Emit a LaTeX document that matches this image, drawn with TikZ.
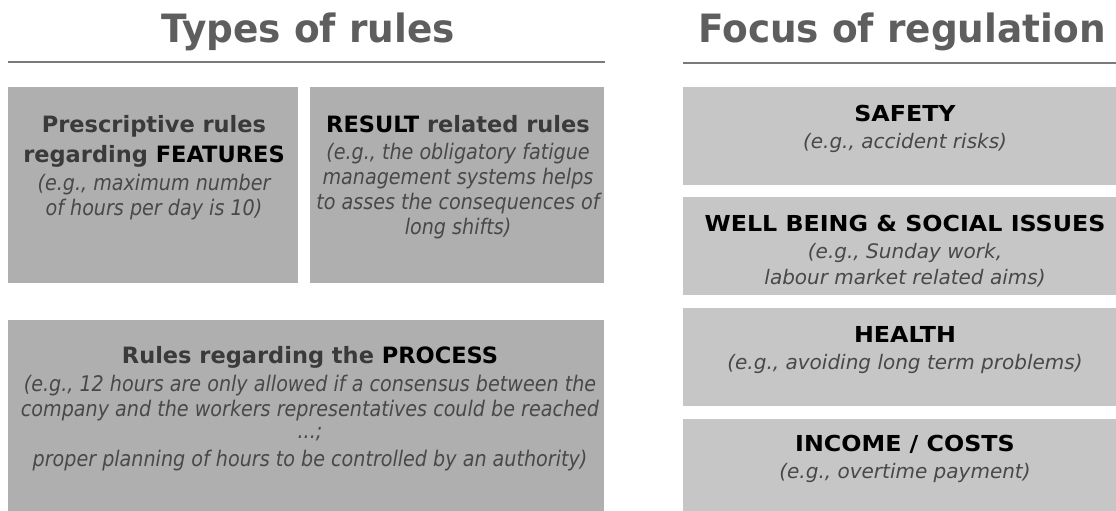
\documentclass[tikz,border=0pt]{standalone}
\usepackage{fontspec}
\setmainfont{DejaVu Sans}
\newfontfamily\titlefont[FakeStretch=0.96]{DejaVu Sans}
\newfontfamily\narrowfont[FakeStretch=0.89]{DejaVu Sans}
\newfontfamily\widefont[FakeStretch=1.08]{DejaVu Sans}
\usepackage{xcolor}

\definecolor{boxdark}{HTML}{AFAFAF}
\definecolor{boxlight}{HTML}{C6C6C6}
\definecolor{titlegray}{HTML}{5E5E5E}
\definecolor{rulegray}{HTML}{7A7A7A}
\definecolor{headgray}{HTML}{3A3A3A}
\definecolor{notegray}{HTML}{484848}

\begin{document}
\begin{tikzpicture}[x=1pt,y=-1pt,
	every node/.style={inner sep=0pt},
	title/.style={anchor=base,text=titlegray,font=\titlefont\bfseries\fontsize{39}{39}\selectfont},
	lhead/.style={anchor=base,text=headgray,font=\bfseries\fontsize{22.5}{22.5}\selectfont},
	lnote/.style={anchor=base,text=notegray,font=\narrowfont\itshape\fontsize{21.5}{21.5}\selectfont},
	rhead/.style={anchor=base,text=black,font=\widefont\bfseries\fontsize{22}{22}\selectfont},
	rnote/.style={anchor=base,text=notegray,font=\itshape\fontsize{20}{20}\selectfont}]
			\useasboundingbox (0,0) rectangle (1116,511);
			% headings
			\node[title] (tleft) at (308,43) {Types of rules};
			\node[title] (tright) at (902,43) {Focus of regulation};
			\draw[rulegray, line width=1.3pt] (8,62) -- (605,62);
			\draw[rulegray, line width=1.3pt] (683,63) -- (1116,63);
			% boxes
			\fill[boxdark] (8,87) rectangle (298,283);
			\fill[boxdark] (310,87) rectangle (604,283);
			\fill[boxdark] (8,320) rectangle (604,515);
			\fill[boxlight] (683,87) rectangle (1120,185);
			\fill[boxlight] (683,197) rectangle (1120,295);
			\fill[boxlight] (683,308) rectangle (1120,406);
			\fill[boxlight] (683,419) rectangle (1120,515);
			% types of rules
			\node[lhead] (feat1) at (154,132) {Prescriptive rules};
			\node[lhead] (feat2) at (154,162) {regarding \textcolor{black}{FEATURES}};
			\node[lnote] (feat3) at (154,190) {(e.g., maximum number};
			\node[lnote] (feat4) at (154,215) {of hours per day is 10)};
			\node[lhead] (res1) at (458,132) {\textcolor{black}{RESULT} related rules};
			\node[lnote] (res2) at (458,159) {(e.g., the obligatory fatigue};
			\node[lnote] (res3) at (458,184) {management systems helps};
			\node[lnote] (res4) at (458,209) {to asses the consequences of};
			\node[lnote] (res5) at (458,234) {long shifts)};
			\node[lhead] (proc1) at (310,363) {Rules regarding the \textcolor{black}{PROCESS}};
			\node[lnote] (proc2) at (310,391) {(e.g., 12 hours are only allowed if a consensus between the};
			\node[lnote] (proc3) at (310,416) {company and the workers representatives could be reached};
			\node[lnote] (proc4) at (310,438) {...;};
			\node[lnote] (proc5) at (310,466) {proper planning of hours to be controlled by an authority)};
			% focus of regulation
			\node[rhead] (saf1) at (905,121) {SAFETY};
			\node[rnote] (saf2) at (905,148) {(e.g., accident risks)};
			\node[rhead] (well1) at (905,231) {WELL BEING \& SOCIAL ISSUES};
			\node[rnote] (well2) at (905,258) {(e.g., Sunday work,};
			\node[rnote] (well3) at (905,284) {labour market related aims)};
			\node[rhead] (hea1) at (905,342) {HEALTH};
			\node[rnote] (hea2) at (905,369) {(e.g., avoiding long term problems)};
			\node[rhead] (inc1) at (905,451) {INCOME / COSTS};
			\node[rnote] (inc2) at (905,478) {(e.g., overtime payment)};
\end{tikzpicture}
\end{document}
